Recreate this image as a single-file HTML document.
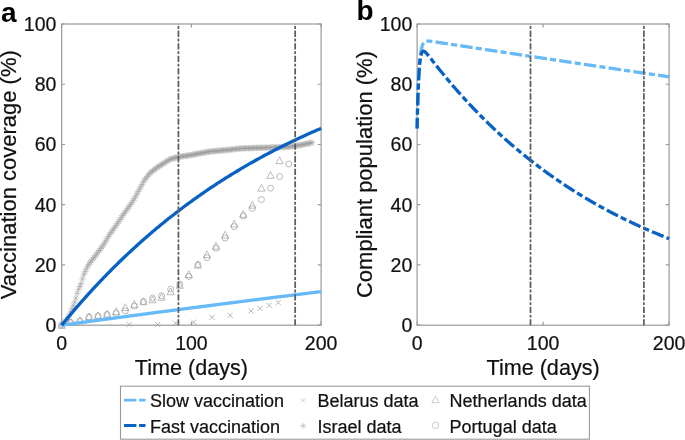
<!DOCTYPE html>
<html><head><meta charset="utf-8"><style>
html,body{margin:0;padding:0;background:#fff;width:685px;height:440px;overflow:hidden}
svg{display:block;filter:blur(0.35px)}
text{font-family:"Liberation Sans",sans-serif;fill:#111;stroke:#111;stroke-width:0.22px}
.tk{font-size:19.5px}
.lb{font-size:22px}
.lg{font-size:18px}
.pl{font-size:28px;font-weight:bold;fill:#000;stroke:none}
</style></head><body>
<svg width="685" height="440" viewBox="0 0 685 440">
<rect x="61.7" y="24" width="259.4" height="301.2" fill="none" stroke="#9a9a9a" stroke-width="1.2"/>
<path d="M61.7,325.2h3.4M321.1,325.2h-3.4M61.7,264.96h3.4M321.1,264.96h-3.4M61.7,204.72h3.4M321.1,204.72h-3.4M61.7,144.48h3.4M321.1,144.48h-3.4M61.7,84.24h3.4M321.1,84.24h-3.4M61.7,24h3.4M321.1,24h-3.4M61.7,325.2v-3.4M61.7,24v3.4M191.4,325.2v-3.4M191.4,24v3.4M321.1,325.2v-3.4M321.1,24v3.4" stroke="#9a9a9a" stroke-width="1.2" fill="none"/>
<text x="56.4" y="332.2" text-anchor="end" class="tk">0</text>
<text x="56.4" y="271.96" text-anchor="end" class="tk">20</text>
<text x="56.4" y="211.72" text-anchor="end" class="tk">40</text>
<text x="56.4" y="151.48" text-anchor="end" class="tk">60</text>
<text x="56.4" y="91.24" text-anchor="end" class="tk">80</text>
<text x="56.4" y="31" text-anchor="end" class="tk">100</text>
<text x="61.7" y="350.3" text-anchor="middle" class="tk">0</text>
<text x="191.4" y="350.3" text-anchor="middle" class="tk">100</text>
<text x="321.1" y="350.3" text-anchor="middle" class="tk">200</text>
<path d="M58.4,324.91h6.6M61.7,321.61v6.6M59.39,322.6l4.62,4.62M59.39,327.22l4.62,-4.62M59.7,323.96h6.6M63,320.66v6.6M60.69,321.65l4.62,4.62M60.69,326.27l4.62,-4.62M60.99,323h6.6M64.29,319.7v6.6M61.98,320.69l4.62,4.62M61.98,325.31l4.62,-4.62M62.29,321.26h6.6M65.59,317.96v6.6M63.28,318.95l4.62,4.62M63.28,323.57l4.62,-4.62M63.59,319.5h6.6M66.89,316.2v6.6M64.58,317.19l4.62,4.62M64.58,321.81l4.62,-4.62M64.89,317.6h6.6M68.19,314.3v6.6M65.88,315.29l4.62,4.62M65.88,319.91l4.62,-4.62M66.18,314.8h6.6M69.48,311.5v6.6M67.17,312.49l4.62,4.62M67.17,317.11l4.62,-4.62M67.48,311.99h6.6M70.78,308.69v6.6M68.47,309.68l4.62,4.62M68.47,314.3l4.62,-4.62M68.78,309.01h6.6M72.08,305.71v6.6M69.77,306.7l4.62,4.62M69.77,311.32l4.62,-4.62M70.07,305.59h6.6M73.37,302.29v6.6M71.06,303.28l4.62,4.62M71.06,307.9l4.62,-4.62M71.37,302.16h6.6M74.67,298.86v6.6M72.36,299.85l4.62,4.62M72.36,304.47l4.62,-4.62M72.67,298.07h6.6M75.97,294.77v6.6M73.66,295.76l4.62,4.62M73.66,300.38l4.62,-4.62M73.96,293.36h6.6M77.26,290.06v6.6M74.95,291.05l4.62,4.62M74.95,295.67l4.62,-4.62M75.26,289.39h6.6M78.56,286.09v6.6M76.25,287.08l4.62,4.62M76.25,291.7l4.62,-4.62M76.56,286.32h6.6M79.86,283.02v6.6M77.55,284.01l4.62,4.62M77.55,288.63l4.62,-4.62M77.86,283.5h6.6M81.16,280.2v6.6M78.84,281.19l4.62,4.62M78.84,285.81l4.62,-4.62M79.15,278.97h6.6M82.45,275.67v6.6M80.14,276.66l4.62,4.62M80.14,281.28l4.62,-4.62M80.45,274.79h6.6M83.75,271.49v6.6M81.44,272.48l4.62,4.62M81.44,277.1l4.62,-4.62M81.75,271.69h6.6M85.05,268.39v6.6M82.74,269.38l4.62,4.62M82.74,274l4.62,-4.62M83.04,268.88h6.6M86.34,265.58v6.6M84.03,266.57l4.62,4.62M84.03,271.19l4.62,-4.62M84.34,266.28h6.6M87.64,262.98v6.6M85.33,263.97l4.62,4.62M85.33,268.59l4.62,-4.62M85.64,264.25h6.6M88.94,260.95v6.6M86.63,261.94l4.62,4.62M86.63,266.56l4.62,-4.62M86.93,262.34h6.6M90.23,259.04v6.6M87.92,260.03l4.62,4.62M87.92,264.65l4.62,-4.62M88.23,260.65h6.6M91.53,257.35v6.6M89.22,258.34l4.62,4.62M89.22,262.96l4.62,-4.62M89.53,259.04h6.6M92.83,255.74v6.6M90.52,256.73l4.62,4.62M90.52,261.35l4.62,-4.62M90.83,257.46h6.6M94.12,254.16v6.6M91.81,255.15l4.62,4.62M91.81,259.77l4.62,-4.62M92.12,255.77h6.6M95.42,252.47v6.6M93.11,253.46l4.62,4.62M93.11,258.08l4.62,-4.62M93.42,254.04h6.6M96.72,250.74v6.6M94.41,251.73l4.62,4.62M94.41,256.35l4.62,-4.62M94.72,252.28h6.6M98.02,248.98v6.6M95.71,249.97l4.62,4.62M95.71,254.59l4.62,-4.62M96.01,250.48h6.6M99.31,247.18v6.6M97,248.17l4.62,4.62M97,252.79l4.62,-4.62M97.31,248.68h6.6M100.61,245.38v6.6M98.3,246.37l4.62,4.62M98.3,250.99l4.62,-4.62M98.61,246.88h6.6M101.91,243.58v6.6M99.6,244.57l4.62,4.62M99.6,249.19l4.62,-4.62M99.9,245.08h6.6M103.2,241.78v6.6M100.89,242.77l4.62,4.62M100.89,247.39l4.62,-4.62M101.2,243.28h6.6M104.5,239.98v6.6M102.19,240.97l4.62,4.62M102.19,245.59l4.62,-4.62M102.5,241.05h6.6M105.8,237.75v6.6M103.49,238.74l4.62,4.62M103.49,243.36l4.62,-4.62M103.8,238.74h6.6M107.1,235.44v6.6M104.79,236.43l4.62,4.62M104.79,241.05l4.62,-4.62M105.09,236.44h6.6M108.39,233.14v6.6M106.08,234.13l4.62,4.62M106.08,238.75l4.62,-4.62M106.39,234.32h6.6M109.69,231.02v6.6M107.38,232.01l4.62,4.62M107.38,236.63l4.62,-4.62M107.69,232.52h6.6M110.99,229.22v6.6M108.68,230.21l4.62,4.62M108.68,234.83l4.62,-4.62M108.98,230.72h6.6M112.28,227.42v6.6M109.97,228.41l4.62,4.62M109.97,233.03l4.62,-4.62M110.28,228.92h6.6M113.58,225.62v6.6M111.27,226.61l4.62,4.62M111.27,231.23l4.62,-4.62M111.58,227.12h6.6M114.88,223.82v6.6M112.57,224.81l4.62,4.62M112.57,229.43l4.62,-4.62M112.87,225.31h6.6M116.17,222.01v6.6M113.86,223l4.62,4.62M113.86,227.62l4.62,-4.62M114.17,223.38h6.6M117.47,220.08v6.6M115.16,221.07l4.62,4.62M115.16,225.69l4.62,-4.62M115.47,221.41h6.6M118.77,218.11v6.6M116.46,219.1l4.62,4.62M116.46,223.72l4.62,-4.62M116.77,219.45h6.6M120.07,216.15v6.6M117.76,217.14l4.62,4.62M117.76,221.76l4.62,-4.62M118.06,217.48h6.6M121.36,214.18v6.6M119.05,215.17l4.62,4.62M119.05,219.79l4.62,-4.62M119.36,215.52h6.6M122.66,212.22v6.6M120.35,213.21l4.62,4.62M120.35,217.83l4.62,-4.62M120.66,213.67h6.6M123.96,210.37v6.6M121.65,211.36l4.62,4.62M121.65,215.98l4.62,-4.62M121.95,211.87h6.6M125.25,208.57v6.6M122.94,209.56l4.62,4.62M122.94,214.18l4.62,-4.62M123.25,210.07h6.6M126.55,206.77v6.6M124.24,207.76l4.62,4.62M124.24,212.38l4.62,-4.62M124.55,208.27h6.6M127.85,204.97v6.6M125.54,205.96l4.62,4.62M125.54,210.58l4.62,-4.62M125.84,206.47h6.6M129.14,203.17v6.6M126.83,204.16l4.62,4.62M126.83,208.78l4.62,-4.62M127.14,204.65h6.6M130.44,201.35v6.6M128.13,202.34l4.62,4.62M128.13,206.96l4.62,-4.62M128.44,202.74h6.6M131.74,199.44v6.6M129.43,200.43l4.62,4.62M129.43,205.05l4.62,-4.62M129.74,200.83h6.6M133.04,197.53v6.6M130.73,198.52l4.62,4.62M130.73,203.14l4.62,-4.62M131.03,198.67h6.6M134.33,195.37v6.6M132.02,196.36l4.62,4.62M132.02,200.98l4.62,-4.62M132.33,196.31h6.6M135.63,193.01v6.6M133.32,194l4.62,4.62M133.32,198.62l4.62,-4.62M133.63,193.95h6.6M136.93,190.65v6.6M134.62,191.64l4.62,4.62M134.62,196.26l4.62,-4.62M134.92,191.59h6.6M138.22,188.29v6.6M135.91,189.28l4.62,4.62M135.91,193.9l4.62,-4.62M136.22,189.22h6.6M139.52,185.92v6.6M137.21,186.91l4.62,4.62M137.21,191.53l4.62,-4.62M137.52,186.82h6.6M140.82,183.52v6.6M138.51,184.51l4.62,4.62M138.51,189.13l4.62,-4.62M138.81,184.42h6.6M142.11,181.12v6.6M139.8,182.11l4.62,4.62M139.8,186.73l4.62,-4.62M140.11,182.02h6.6M143.41,178.72v6.6M141.1,179.71l4.62,4.62M141.1,184.33l4.62,-4.62M141.41,179.74h6.6M144.71,176.44v6.6M142.4,177.43l4.62,4.62M142.4,182.05l4.62,-4.62M142.71,178.08h6.6M146.01,174.78v6.6M143.7,175.77l4.62,4.62M143.7,180.39l4.62,-4.62M144,176.43h6.6M147.3,173.13v6.6M144.99,174.12l4.62,4.62M144.99,178.74l4.62,-4.62M145.3,174.78h6.6M148.6,171.48v6.6M146.29,172.47l4.62,4.62M146.29,177.09l4.62,-4.62M146.6,173.13h6.6M149.9,169.83v6.6M147.59,170.82l4.62,4.62M147.59,175.44l4.62,-4.62M147.89,172.07h6.6M151.19,168.77v6.6M148.88,169.76l4.62,4.62M148.88,174.38l4.62,-4.62M149.19,171.05h6.6M152.49,167.75v6.6M150.18,168.74l4.62,4.62M150.18,173.36l4.62,-4.62M150.49,170.04h6.6M153.79,166.74v6.6M151.48,167.73l4.62,4.62M151.48,172.35l4.62,-4.62M151.78,169.03h6.6M155.08,165.73v6.6M152.77,166.72l4.62,4.62M152.77,171.34l4.62,-4.62M153.08,168.01h6.6M156.38,164.71v6.6M154.07,165.7l4.62,4.62M154.07,170.32l4.62,-4.62M154.38,167.17h6.6M157.68,163.87v6.6M155.37,164.86l4.62,4.62M155.37,169.48l4.62,-4.62M155.68,166.33h6.6M158.98,163.03v6.6M156.67,164.02l4.62,4.62M156.67,168.64l4.62,-4.62M156.97,165.49h6.6M160.27,162.19v6.6M157.96,163.18l4.62,4.62M157.96,167.8l4.62,-4.62M158.27,164.65h6.6M161.57,161.35v6.6M159.26,162.34l4.62,4.62M159.26,166.96l4.62,-4.62M159.57,163.82h6.6M162.87,160.52v6.6M160.56,161.51l4.62,4.62M160.56,166.13l4.62,-4.62M160.86,163h6.6M164.16,159.7v6.6M161.85,160.69l4.62,4.62M161.85,165.31l4.62,-4.62M162.16,162.18h6.6M165.46,158.88v6.6M163.15,159.87l4.62,4.62M163.15,164.49l4.62,-4.62M163.46,161.36h6.6M166.76,158.06v6.6M164.45,159.05l4.62,4.62M164.45,163.67l4.62,-4.62M164.75,160.53h6.6M168.05,157.23v6.6M165.74,158.22l4.62,4.62M165.74,162.84l4.62,-4.62M166.05,159.71h6.6M169.35,156.41v6.6M167.04,157.4l4.62,4.62M167.04,162.02l4.62,-4.62M167.35,159.11h6.6M170.65,155.81v6.6M168.34,156.8l4.62,4.62M168.34,161.42l4.62,-4.62M168.65,158.74h6.6M171.95,155.44v6.6M169.64,156.43l4.62,4.62M169.64,161.05l4.62,-4.62M169.94,158.37h6.6M173.24,155.07v6.6M170.93,156.06l4.62,4.62M170.93,160.68l4.62,-4.62M171.24,158h6.6M174.54,154.7v6.6M172.23,155.69l4.62,4.62M172.23,160.31l4.62,-4.62M172.54,157.62h6.6M175.84,154.32v6.6M173.53,155.31l4.62,4.62M173.53,159.93l4.62,-4.62M173.83,157.25h6.6M177.13,153.95v6.6M174.82,154.94l4.62,4.62M174.82,159.56l4.62,-4.62M175.13,156.94h6.6M178.43,153.64v6.6M176.12,154.63l4.62,4.62M176.12,159.25l4.62,-4.62M176.43,156.74h6.6M179.73,153.44v6.6M177.42,154.43l4.62,4.62M177.42,159.05l4.62,-4.62M177.72,156.55h6.6M181.02,153.25v6.6M178.71,154.24l4.62,4.62M178.71,158.86l4.62,-4.62M179.02,156.35h6.6M182.32,153.05v6.6M180.01,154.04l4.62,4.62M180.01,158.66l4.62,-4.62M180.32,156.16h6.6M183.62,152.86v6.6M181.31,153.85l4.62,4.62M181.31,158.47l4.62,-4.62M181.62,155.96h6.6M184.92,152.66v6.6M182.61,153.65l4.62,4.62M182.61,158.27l4.62,-4.62M182.91,155.77h6.6M186.21,152.47v6.6M183.9,153.46l4.62,4.62M183.9,158.08l4.62,-4.62M184.21,155.57h6.6M187.51,152.27v6.6M185.2,153.26l4.62,4.62M185.2,157.88l4.62,-4.62M185.51,155.38h6.6M188.81,152.08v6.6M186.5,153.07l4.62,4.62M186.5,157.69l4.62,-4.62M186.8,155.18h6.6M190.1,151.88v6.6M187.79,152.87l4.62,4.62M187.79,157.49l4.62,-4.62M188.1,154.93h6.6M191.4,151.63v6.6M189.09,152.62l4.62,4.62M189.09,157.24l4.62,-4.62M189.4,154.69h6.6M192.7,151.39v6.6M190.39,152.38l4.62,4.62M190.39,157l4.62,-4.62M190.69,154.44h6.6M193.99,151.14v6.6M191.68,152.13l4.62,4.62M191.68,156.75l4.62,-4.62M191.99,154.19h6.6M195.29,150.89v6.6M192.98,151.88l4.62,4.62M192.98,156.5l4.62,-4.62M193.29,153.95h6.6M196.59,150.65v6.6M194.28,151.64l4.62,4.62M194.28,156.26l4.62,-4.62M194.59,153.7h6.6M197.89,150.4v6.6M195.58,151.39l4.62,4.62M195.58,156.01l4.62,-4.62M195.88,153.46h6.6M199.18,150.16v6.6M196.87,151.15l4.62,4.62M196.87,155.77l4.62,-4.62M197.18,153.21h6.6M200.48,149.91v6.6M198.17,150.9l4.62,4.62M198.17,155.52l4.62,-4.62M198.48,152.98h6.6M201.78,149.68v6.6M199.47,150.67l4.62,4.62M199.47,155.29l4.62,-4.62M199.77,152.75h6.6M203.07,149.45v6.6M200.76,150.44l4.62,4.62M200.76,155.06l4.62,-4.62M201.07,152.51h6.6M204.37,149.21v6.6M202.06,150.2l4.62,4.62M202.06,154.82l4.62,-4.62M202.37,152.28h6.6M205.67,148.98v6.6M203.36,149.97l4.62,4.62M203.36,154.59l4.62,-4.62M203.66,152.05h6.6M206.96,148.75v6.6M204.65,149.74l4.62,4.62M204.65,154.36l4.62,-4.62M204.96,151.81h6.6M208.26,148.51v6.6M205.95,149.5l4.62,4.62M205.95,154.12l4.62,-4.62M206.26,151.58h6.6M209.56,148.28v6.6M207.25,149.27l4.62,4.62M207.25,153.89l4.62,-4.62M207.56,151.42h6.6M210.86,148.12v6.6M208.55,149.11l4.62,4.62M208.55,153.73l4.62,-4.62M208.85,151.31h6.6M212.15,148.01v6.6M209.84,149l4.62,4.62M209.84,153.62l4.62,-4.62M210.15,151.19h6.6M213.45,147.89v6.6M211.14,148.88l4.62,4.62M211.14,153.5l4.62,-4.62M211.45,151.07h6.6M214.75,147.77v6.6M212.44,148.76l4.62,4.62M212.44,153.38l4.62,-4.62M212.74,150.96h6.6M216.04,147.66v6.6M213.73,148.65l4.62,4.62M213.73,153.27l4.62,-4.62M214.04,150.84h6.6M217.34,147.54v6.6M215.03,148.53l4.62,4.62M215.03,153.15l4.62,-4.62M215.34,150.72h6.6M218.64,147.42v6.6M216.33,148.41l4.62,4.62M216.33,153.03l4.62,-4.62M216.63,150.61h6.6M219.93,147.31v6.6M217.62,148.3l4.62,4.62M217.62,152.92l4.62,-4.62M217.93,150.49h6.6M221.23,147.19v6.6M218.92,148.18l4.62,4.62M218.92,152.8l4.62,-4.62M219.23,150.37h6.6M222.53,147.07v6.6M220.22,148.06l4.62,4.62M220.22,152.68l4.62,-4.62M220.53,150.26h6.6M223.83,146.96v6.6M221.52,147.95l4.62,4.62M221.52,152.57l4.62,-4.62M221.82,150.14h6.6M225.12,146.84v6.6M222.81,147.83l4.62,4.62M222.81,152.45l4.62,-4.62M223.12,150.02h6.6M226.42,146.72v6.6M224.11,147.71l4.62,4.62M224.11,152.33l4.62,-4.62M224.42,149.91h6.6M227.72,146.61v6.6M225.41,147.6l4.62,4.62M225.41,152.22l4.62,-4.62M225.71,149.79h6.6M229.01,146.49v6.6M226.7,147.48l4.62,4.62M226.7,152.1l4.62,-4.62M227.01,149.66h6.6M230.31,146.36v6.6M228,147.35l4.62,4.62M228,151.97l4.62,-4.62M228.31,149.51h6.6M231.61,146.21v6.6M229.3,147.2l4.62,4.62M229.3,151.82l4.62,-4.62M229.6,149.35h6.6M232.9,146.05v6.6M230.59,147.04l4.62,4.62M230.59,151.66l4.62,-4.62M230.9,149.2h6.6M234.2,145.9v6.6M231.89,146.89l4.62,4.62M231.89,151.51l4.62,-4.62M232.2,149.04h6.6M235.5,145.74v6.6M233.19,146.73l4.62,4.62M233.19,151.35l4.62,-4.62M233.5,148.88h6.6M236.8,145.58v6.6M234.49,146.57l4.62,4.62M234.49,151.19l4.62,-4.62M234.79,148.73h6.6M238.09,145.43v6.6M235.78,146.42l4.62,4.62M235.78,151.04l4.62,-4.62M236.09,148.57h6.6M239.39,145.27v6.6M237.08,146.26l4.62,4.62M237.08,150.88l4.62,-4.62M237.39,148.48h6.6M240.69,145.18v6.6M238.38,146.17l4.62,4.62M238.38,150.79l4.62,-4.62M238.68,148.43h6.6M241.98,145.13v6.6M239.67,146.12l4.62,4.62M239.67,150.74l4.62,-4.62M239.98,148.39h6.6M243.28,145.09v6.6M240.97,146.08l4.62,4.62M240.97,150.7l4.62,-4.62M241.28,148.34h6.6M244.58,145.04v6.6M242.27,146.03l4.62,4.62M242.27,150.65l4.62,-4.62M242.57,148.29h6.6M245.87,144.99v6.6M243.56,145.98l4.62,4.62M243.56,150.6l4.62,-4.62M243.87,148.25h6.6M247.17,144.95v6.6M244.86,145.94l4.62,4.62M244.86,150.56l4.62,-4.62M245.17,148.2h6.6M248.47,144.9v6.6M246.16,145.89l4.62,4.62M246.16,150.51l4.62,-4.62M246.47,148.16h6.6M249.77,144.86v6.6M247.46,145.85l4.62,4.62M247.46,150.47l4.62,-4.62M247.76,148.11h6.6M251.06,144.81v6.6M248.75,145.8l4.62,4.62M248.75,150.42l4.62,-4.62M249.06,148.07h6.6M252.36,144.77v6.6M250.05,145.76l4.62,4.62M250.05,150.38l4.62,-4.62M250.36,148.02h6.6M253.66,144.72v6.6M251.35,145.71l4.62,4.62M251.35,150.33l4.62,-4.62M251.65,147.98h6.6M254.95,144.68v6.6M252.64,145.67l4.62,4.62M252.64,150.29l4.62,-4.62M252.95,147.93h6.6M256.25,144.63v6.6M253.94,145.62l4.62,4.62M253.94,150.24l4.62,-4.62M254.25,147.89h6.6M257.55,144.59v6.6M255.24,145.58l4.62,4.62M255.24,150.2l4.62,-4.62M255.54,147.84h6.6M258.84,144.54v6.6M256.53,145.53l4.62,4.62M256.53,150.15l4.62,-4.62M256.84,147.8h6.6M260.14,144.5v6.6M257.83,145.49l4.62,4.62M257.83,150.11l4.62,-4.62M258.14,147.76h6.6M261.44,144.46v6.6M259.13,145.45l4.62,4.62M259.13,150.07l4.62,-4.62M259.44,147.72h6.6M262.74,144.42v6.6M260.43,145.41l4.62,4.62M260.43,150.03l4.62,-4.62M260.73,147.68h6.6M264.03,144.38v6.6M261.72,145.37l4.62,4.62M261.72,149.99l4.62,-4.62M262.03,147.64h6.6M265.33,144.34v6.6M263.02,145.33l4.62,4.62M263.02,149.95l4.62,-4.62M263.33,147.6h6.6M266.63,144.3v6.6M264.32,145.29l4.62,4.62M264.32,149.91l4.62,-4.62M264.62,147.56h6.6M267.92,144.26v6.6M265.61,145.25l4.62,4.62M265.61,149.87l4.62,-4.62M265.92,147.52h6.6M269.22,144.22v6.6M266.91,145.21l4.62,4.62M266.91,149.83l4.62,-4.62M267.22,147.48h6.6M270.52,144.18v6.6M268.21,145.17l4.62,4.62M268.21,149.79l4.62,-4.62M268.51,147.45h6.6M271.81,144.15v6.6M269.5,145.14l4.62,4.62M269.5,149.76l4.62,-4.62M269.81,147.41h6.6M273.11,144.11v6.6M270.8,145.1l4.62,4.62M270.8,149.72l4.62,-4.62M271.11,147.37h6.6M274.41,144.07v6.6M272.1,145.06l4.62,4.62M272.1,149.68l4.62,-4.62M272.41,147.33h6.6M275.71,144.03v6.6M273.4,145.02l4.62,4.62M273.4,149.64l4.62,-4.62M273.7,147.29h6.6M277,143.99v6.6M274.69,144.98l4.62,4.62M274.69,149.6l4.62,-4.62M275,147.25h6.6M278.3,143.95v6.6M275.99,144.94l4.62,4.62M275.99,149.56l4.62,-4.62M276.3,147.21h6.6M279.6,143.91v6.6M277.29,144.9l4.62,4.62M277.29,149.52l4.62,-4.62M277.59,147.15h6.6M280.89,143.85v6.6M278.58,144.84l4.62,4.62M278.58,149.46l4.62,-4.62M278.89,147.07h6.6M282.19,143.77v6.6M279.88,144.76l4.62,4.62M279.88,149.38l4.62,-4.62M280.19,146.99h6.6M283.49,143.69v6.6M281.18,144.68l4.62,4.62M281.18,149.3l4.62,-4.62M281.48,146.91h6.6M284.78,143.61v6.6M282.47,144.6l4.62,4.62M282.47,149.22l4.62,-4.62M282.78,146.84h6.6M286.08,143.54v6.6M283.77,144.53l4.62,4.62M283.77,149.15l4.62,-4.62M284.08,146.76h6.6M287.38,143.46v6.6M285.07,144.45l4.62,4.62M285.07,149.07l4.62,-4.62M285.38,146.68h6.6M288.68,143.38v6.6M286.37,144.37l4.62,4.62M286.37,148.99l4.62,-4.62M286.67,146.6h6.6M289.97,143.3v6.6M287.66,144.29l4.62,4.62M287.66,148.91l4.62,-4.62M287.97,146.41h6.6M291.27,143.11v6.6M288.96,144.1l4.62,4.62M288.96,148.72l4.62,-4.62M289.27,146.22h6.6M292.57,142.92v6.6M290.26,143.91l4.62,4.62M290.26,148.53l4.62,-4.62M290.56,146.02h6.6M293.86,142.72v6.6M291.55,143.71l4.62,4.62M291.55,148.33l4.62,-4.62M291.86,145.83h6.6M295.16,142.53v6.6M292.85,143.52l4.62,4.62M292.85,148.14l4.62,-4.62M293.16,145.63h6.6M296.46,142.33v6.6M294.15,143.32l4.62,4.62M294.15,147.94l4.62,-4.62M294.45,145.44h6.6M297.75,142.14v6.6M295.44,143.13l4.62,4.62M295.44,147.75l4.62,-4.62M295.75,145.24h6.6M299.05,141.94v6.6M296.74,142.93l4.62,4.62M296.74,147.55l4.62,-4.62M297.05,145.03h6.6M300.35,141.73v6.6M298.04,142.72l4.62,4.62M298.04,147.34l4.62,-4.62M298.35,144.77h6.6M301.65,141.47v6.6M299.34,142.46l4.62,4.62M299.34,147.08l4.62,-4.62M299.64,144.51h6.6M302.94,141.21v6.6M300.63,142.2l4.62,4.62M300.63,146.82l4.62,-4.62M300.94,144.25h6.6M304.24,140.95v6.6M301.93,141.94l4.62,4.62M301.93,146.56l4.62,-4.62M302.24,143.99h6.6M305.54,140.69v6.6M303.23,141.68l4.62,4.62M303.23,146.3l4.62,-4.62M303.53,143.73h6.6M306.83,140.43v6.6M304.52,141.42l4.62,4.62M304.52,146.04l4.62,-4.62M304.83,143.47h6.6M308.13,140.17v6.6M305.82,141.16l4.62,4.62M305.82,145.78l4.62,-4.62M306.13,143.21h6.6M309.43,139.91v6.6M307.12,140.9l4.62,4.62M307.12,145.52l4.62,-4.62M307.42,142.9h6.6M310.72,139.6v6.6M308.41,140.59l4.62,4.62M308.41,145.21l4.62,-4.62M308.72,142.53h6.6M312.02,139.23v6.6M309.71,140.22l4.62,4.62M309.71,144.84l4.62,-4.62" stroke="#9c9c9c" stroke-width="0.5" fill="none"/>
<path d="M58.7,325a3.0,3.0 0 1,0 6,0a3.0,3.0 0 1,0 -6,0M67.78,322.5a3.0,3.0 0 1,0 6,0a3.0,3.0 0 1,0 -6,0M76.86,320.8a3.0,3.0 0 1,0 6,0a3.0,3.0 0 1,0 -6,0M85.94,317a3.0,3.0 0 1,0 6,0a3.0,3.0 0 1,0 -6,0M95.02,315.9a3.0,3.0 0 1,0 6,0a3.0,3.0 0 1,0 -6,0M104.09,314.5a3.0,3.0 0 1,0 6,0a3.0,3.0 0 1,0 -6,0M113.17,313.4a3.0,3.0 0 1,0 6,0a3.0,3.0 0 1,0 -6,0M122.25,310.8a3.0,3.0 0 1,0 6,0a3.0,3.0 0 1,0 -6,0M131.33,306.2a3.0,3.0 0 1,0 6,0a3.0,3.0 0 1,0 -6,0M140.41,301.5a3.0,3.0 0 1,0 6,0a3.0,3.0 0 1,0 -6,0M149.49,298.2a3.0,3.0 0 1,0 6,0a3.0,3.0 0 1,0 -6,0M158.57,295.8a3.0,3.0 0 1,0 6,0a3.0,3.0 0 1,0 -6,0M167.65,289.1a3.0,3.0 0 1,0 6,0a3.0,3.0 0 1,0 -6,0M176.73,284.3a3.0,3.0 0 1,0 6,0a3.0,3.0 0 1,0 -6,0M185.81,276.5a3.0,3.0 0 1,0 6,0a3.0,3.0 0 1,0 -6,0M194.88,264.6a3.0,3.0 0 1,0 6,0a3.0,3.0 0 1,0 -6,0M203.96,257.7a3.0,3.0 0 1,0 6,0a3.0,3.0 0 1,0 -6,0M213.04,248.2a3.0,3.0 0 1,0 6,0a3.0,3.0 0 1,0 -6,0M222.12,238a3.0,3.0 0 1,0 6,0a3.0,3.0 0 1,0 -6,0M231.2,226.6a3.0,3.0 0 1,0 6,0a3.0,3.0 0 1,0 -6,0M240.28,216a3.0,3.0 0 1,0 6,0a3.0,3.0 0 1,0 -6,0M249.36,208.4a3.0,3.0 0 1,0 6,0a3.0,3.0 0 1,0 -6,0M258.44,199.6a3.0,3.0 0 1,0 6,0a3.0,3.0 0 1,0 -6,0M267.52,188.2a3.0,3.0 0 1,0 6,0a3.0,3.0 0 1,0 -6,0M276.6,176.6a3.0,3.0 0 1,0 6,0a3.0,3.0 0 1,0 -6,0M285.68,164a3.0,3.0 0 1,0 6,0a3.0,3.0 0 1,0 -6,0" stroke="#8f8f8f" stroke-width="0.6" fill="none"/>
<path d="M61.7,321.6L65.3,328.4L58.1,328.4ZM70.78,318.6L74.38,325.4L67.18,325.4ZM79.86,316.9L83.46,323.7L76.26,323.7ZM88.94,313.1L92.54,319.9L85.34,319.9ZM98.02,311.9L101.62,318.7L94.42,318.7ZM107.09,310.4L110.69,317.2L103.5,317.2ZM116.17,307.8L119.77,314.6L112.57,314.6ZM125.25,303.7L128.85,310.5L121.65,310.5ZM134.33,300.6L137.93,307.4L130.73,307.4ZM143.41,297.9L147.01,304.7L139.81,304.7ZM152.49,296L156.09,302.8L148.89,302.8ZM161.57,293.4L165.17,300.2L157.97,300.2ZM170.65,287.9L174.25,294.7L167.05,294.7ZM179.73,281.5L183.33,288.3L176.13,288.3ZM188.81,270.7L192.41,277.5L185.21,277.5ZM197.88,261.2L201.48,268L194.28,268ZM206.96,250.9L210.56,257.7L203.36,257.7ZM216.04,242.4L219.64,249.2L212.44,249.2ZM225.12,231.2L228.72,238L221.52,238ZM234.2,220.1L237.8,226.9L230.6,226.9ZM243.28,210.5L246.88,217.3L239.68,217.3ZM252.36,201.3L255.96,208.1L248.76,208.1ZM261.44,184.3L265.04,191.1L257.84,191.1ZM270.52,171.5L274.12,178.3L266.92,178.3ZM279.6,156.8L283.2,163.6L276,163.6Z" stroke="#8f8f8f" stroke-width="0.6" fill="none" stroke-linejoin="miter"/>
<path d="M126.5,321.9l5.2,5.2M126.5,327.1l5.2,-5.2M155,321.9l5.2,5.2M155,327.1l5.2,-5.2M172.9,320.6l5.2,5.2M172.9,325.8l5.2,-5.2M191.1,319.6l5.2,5.2M191.1,324.8l5.2,-5.2M209.5,314.7l5.2,5.2M209.5,319.9l5.2,-5.2M227.6,312.8l5.2,5.2M227.6,318l5.2,-5.2M248.4,308.4l5.2,5.2M248.4,313.6l5.2,-5.2M257.4,305.8l5.2,5.2M257.4,311l5.2,-5.2M266.6,302.9l5.2,5.2M266.6,308.1l5.2,-5.2M275.7,300l5.2,5.2M275.7,305.2l5.2,-5.2" stroke="#9a9a9a" stroke-width="0.7" fill="none"/>
<polyline points="61.7,325.2 63,325.02 64.29,324.84 65.59,324.67 66.89,324.49 68.19,324.31 69.48,324.13 70.78,323.96 72.08,323.78 73.37,323.6 74.67,323.43 75.97,323.25 77.26,323.07 78.56,322.89 79.86,322.72 81.16,322.54 82.45,322.37 83.75,322.19 85.05,322.01 86.34,321.84 87.64,321.66 88.94,321.48 90.23,321.31 91.53,321.13 92.83,320.96 94.12,320.78 95.42,320.61 96.72,320.43 98.02,320.26 99.31,320.08 100.61,319.91 101.91,319.73 103.2,319.56 104.5,319.38 105.8,319.21 107.1,319.03 108.39,318.86 109.69,318.69 110.99,318.51 112.28,318.34 113.58,318.16 114.88,317.99 116.17,317.82 117.47,317.64 118.77,317.47 120.07,317.3 121.36,317.12 122.66,316.95 123.96,316.78 125.25,316.6 126.55,316.43 127.85,316.26 129.14,316.08 130.44,315.91 131.74,315.74 133.04,315.57 134.33,315.39 135.63,315.22 136.93,315.05 138.22,314.88 139.52,314.71 140.82,314.53 142.11,314.36 143.41,314.19 144.71,314.02 146.01,313.85 147.3,313.68 148.6,313.51 149.9,313.34 151.19,313.16 152.49,312.99 153.79,312.82 155.08,312.65 156.38,312.48 157.68,312.31 158.98,312.14 160.27,311.97 161.57,311.8 162.87,311.63 164.16,311.46 165.46,311.29 166.76,311.12 168.05,310.95 169.35,310.78 170.65,310.61 171.95,310.44 173.24,310.27 174.54,310.1 175.84,309.94 177.13,309.77 178.43,309.6 179.73,309.43 181.02,309.26 182.32,309.09 183.62,308.92 184.92,308.76 186.21,308.59 187.51,308.42 188.81,308.25 190.1,308.08 191.4,307.91 192.7,307.75 193.99,307.58 195.29,307.41 196.59,307.24 197.89,307.08 199.18,306.91 200.48,306.74 201.78,306.58 203.07,306.41 204.37,306.24 205.67,306.08 206.96,305.91 208.26,305.74 209.56,305.58 210.86,305.41 212.15,305.24 213.45,305.08 214.75,304.91 216.04,304.74 217.34,304.58 218.64,304.41 219.93,304.25 221.23,304.08 222.53,303.92 223.83,303.75 225.12,303.59 226.42,303.42 227.72,303.26 229.01,303.09 230.31,302.93 231.61,302.76 232.9,302.6 234.2,302.43 235.5,302.27 236.8,302.1 238.09,301.94 239.39,301.77 240.69,301.61 241.98,301.45 243.28,301.28 244.58,301.12 245.87,300.95 247.17,300.79 248.47,300.63 249.77,300.46 251.06,300.3 252.36,300.14 253.66,299.97 254.95,299.81 256.25,299.65 257.55,299.49 258.84,299.32 260.14,299.16 261.44,299 262.74,298.83 264.03,298.67 265.33,298.51 266.63,298.35 267.92,298.19 269.22,298.02 270.52,297.86 271.81,297.7 273.11,297.54 274.41,297.38 275.71,297.22 277,297.05 278.3,296.89 279.6,296.73 280.89,296.57 282.19,296.41 283.49,296.25 284.78,296.09 286.08,295.93 287.38,295.77 288.68,295.61 289.97,295.44 291.27,295.28 292.57,295.12 293.86,294.96 295.16,294.8 296.46,294.64 297.75,294.48 299.05,294.32 300.35,294.16 301.65,294 302.94,293.85 304.24,293.69 305.54,293.53 306.83,293.37 308.13,293.21 309.43,293.05 310.72,292.89 312.02,292.73 313.32,292.57 314.62,292.41 315.91,292.26 317.21,292.1 318.51,291.94 319.8,291.78 321.1,291.62" stroke="#66BAF7" stroke-width="3.3" fill="none" stroke-linejoin="round"/>
<polyline points="61.7,325.2 63,323.61 64.29,322.02 65.59,320.45 66.89,318.88 68.19,317.32 69.48,315.77 70.78,314.23 72.08,312.7 73.37,311.17 74.67,309.65 75.97,308.14 77.26,306.64 78.56,305.15 79.86,303.66 81.16,302.18 82.45,300.71 83.75,299.25 85.05,297.79 86.34,296.35 87.64,294.91 88.94,293.47 90.23,292.05 91.53,290.63 92.83,289.22 94.12,287.82 95.42,286.43 96.72,285.04 98.02,283.66 99.31,282.29 100.61,280.92 101.91,279.56 103.2,278.21 104.5,276.87 105.8,275.53 107.1,274.2 108.39,272.88 109.69,271.57 110.99,270.26 112.28,268.95 113.58,267.66 114.88,266.37 116.17,265.09 117.47,263.82 118.77,262.55 120.07,261.29 121.36,260.03 122.66,258.79 123.96,257.54 125.25,256.31 126.55,255.08 127.85,253.86 129.14,252.65 130.44,251.44 131.74,250.24 133.04,249.04 134.33,247.85 135.63,246.67 136.93,245.49 138.22,244.32 139.52,243.15 140.82,242 142.11,240.84 143.41,239.7 144.71,238.56 146.01,237.42 147.3,236.29 148.6,235.17 149.9,234.06 151.19,232.95 152.49,231.84 153.79,230.74 155.08,229.65 156.38,228.56 157.68,227.48 158.98,226.41 160.27,225.34 161.57,224.27 162.87,223.21 164.16,222.16 165.46,221.11 166.76,220.07 168.05,219.03 169.35,218 170.65,216.98 171.95,215.96 173.24,214.94 174.54,213.93 175.84,212.93 177.13,211.93 178.43,210.94 179.73,209.95 181.02,208.97 182.32,207.99 183.62,207.02 184.92,206.05 186.21,205.09 187.51,204.13 188.81,203.18 190.1,202.23 191.4,201.29 192.7,200.35 193.99,199.42 195.29,198.49 196.59,197.57 197.89,196.65 199.18,195.74 200.48,194.83 201.78,193.93 203.07,193.03 204.37,192.14 205.67,191.25 206.96,190.36 208.26,189.48 209.56,188.61 210.86,187.74 212.15,186.87 213.45,186.01 214.75,185.16 216.04,184.3 217.34,183.46 218.64,182.61 219.93,181.78 221.23,180.94 222.53,180.11 223.83,179.29 225.12,178.47 226.42,177.65 227.72,176.84 229.01,176.03 230.31,175.23 231.61,174.43 232.9,173.63 234.2,172.84 235.5,172.05 236.8,171.27 238.09,170.49 239.39,169.72 240.69,168.95 241.98,168.18 243.28,167.42 244.58,166.66 245.87,165.91 247.17,165.16 248.47,164.41 249.77,163.67 251.06,162.93 252.36,162.2 253.66,161.47 254.95,160.74 256.25,160.02 257.55,159.3 258.84,158.58 260.14,157.87 261.44,157.16 262.74,156.46 264.03,155.76 265.33,155.06 266.63,154.37 267.92,153.68 269.22,153 270.52,152.31 271.81,151.63 273.11,150.96 274.41,150.29 275.71,149.62 277,148.96 278.3,148.3 279.6,147.64 280.89,146.99 282.19,146.34 283.49,145.69 284.78,145.05 286.08,144.41 287.38,143.77 288.68,143.14 289.97,142.51 291.27,141.88 292.57,141.26 293.86,140.64 295.16,140.02 296.46,139.41 297.75,138.8 299.05,138.19 300.35,137.59 301.65,136.99 302.94,136.39 304.24,135.8 305.54,135.2 306.83,134.62 308.13,134.03 309.43,133.45 310.72,132.87 312.02,132.3 313.32,131.72 314.62,131.15 315.91,130.59 317.21,130.02 318.51,129.46 319.8,128.91 321.1,128.35" stroke="#0862C6" stroke-width="3.3" fill="none" stroke-linejoin="round"/>
<line x1="178.43" y1="24" x2="178.43" y2="325.2" stroke="#5e5e5e" stroke-width="1.75" stroke-dasharray="6.3 1.7 2.9 1.65" stroke-dashoffset="5.95"/>
<line x1="295.16" y1="24" x2="295.16" y2="325.2" stroke="#5e5e5e" stroke-width="1.75" stroke-dasharray="6.3 1.7 2.9 1.65" stroke-dashoffset="5.95"/>
<rect x="417.1" y="24" width="252" height="301.2" fill="none" stroke="#9a9a9a" stroke-width="1.2"/>
<path d="M417.1,325.2h3.4M669.1,325.2h-3.4M417.1,264.96h3.4M669.1,264.96h-3.4M417.1,204.72h3.4M669.1,204.72h-3.4M417.1,144.48h3.4M669.1,144.48h-3.4M417.1,84.24h3.4M669.1,84.24h-3.4M417.1,24h3.4M669.1,24h-3.4M417.1,325.2v-3.4M417.1,24v3.4M543.1,325.2v-3.4M543.1,24v3.4M669.1,325.2v-3.4M669.1,24v3.4" stroke="#9a9a9a" stroke-width="1.2" fill="none"/>
<text x="412.3" y="332.2" text-anchor="end" class="tk">0</text>
<text x="412.3" y="271.96" text-anchor="end" class="tk">20</text>
<text x="412.3" y="211.72" text-anchor="end" class="tk">40</text>
<text x="412.3" y="151.48" text-anchor="end" class="tk">60</text>
<text x="412.3" y="91.24" text-anchor="end" class="tk">80</text>
<text x="412.3" y="31" text-anchor="end" class="tk">100</text>
<text x="417.1" y="350.3" text-anchor="middle" class="tk">0</text>
<text x="543.1" y="350.3" text-anchor="middle" class="tk">100</text>
<text x="669.1" y="350.3" text-anchor="middle" class="tk">200</text>
<polyline points="417.1,128.52 417.23,122.77 417.35,117.4 417.48,112.37 417.6,107.68 417.73,103.28 417.86,99.17 417.98,95.33 418.11,91.73 418.23,88.37 418.36,85.23 418.49,82.29 418.61,79.54 418.74,76.97 418.86,74.56 418.99,72.32 419.12,70.21 419.24,68.25 419.37,66.41 419.49,64.7 419.62,63.09 419.75,61.59 419.87,60.19 420,58.88 420.12,57.66 420.25,56.51 420.38,55.44 420.5,54.44 420.63,53.51 420.75,52.64 420.88,51.82 421.01,51.06 421.13,50.35 421.26,49.69 421.38,49.07 421.51,48.49 421.64,47.95 421.76,47.45 421.89,46.98 422.01,46.54 422.14,46.13 422.27,45.75 422.39,45.39 422.52,45.06 422.64,44.75 422.77,44.47 422.9,44.2 423.02,43.95 423.15,43.72 423.27,43.5 423.4,43.3 423.53,43.12 423.65,42.94 423.78,42.78 423.9,42.63 424.03,42.49 424.16,42.37 424.28,42.25 424.41,42.14 424.53,42.04 424.66,41.94 424.79,41.86 424.91,41.78 425.04,41.7 425.16,41.64 425.29,41.58 425.42,41.52 425.54,41.47 425.67,41.42 425.79,41.38 425.92,41.34 426.05,41.3 426.17,41.27 426.3,41.24 426.42,41.22 426.55,41.2 426.68,41.18 426.8,41.16 426.93,41.15 427.05,41.13 427.18,41.12 427.31,41.11 427.43,41.11 427.56,41.1 427.68,41.1 427.81,41.1 427.94,41.1 428.06,41.1 428.19,41.1 428.31,41.1 428.44,41.1 428.57,41.11 428.69,41.12 428.82,41.12 428.94,41.13 429.07,41.14 429.2,41.15 429.32,41.16 429.45,41.17 429.57,41.18 429.7,41.19 430.33,41.25 430.96,41.33 431.59,41.41 432.22,41.49 432.85,41.58 433.48,41.67 434.11,41.76 434.74,41.85 435.37,41.95 436,42.04 436.63,42.14 437.26,42.23 437.89,42.33 438.52,42.42 439.15,42.52 439.78,42.61 440.41,42.71 441.04,42.81 441.67,42.9 442.3,43 442.93,43.09 443.56,43.19 444.19,43.28 444.82,43.38 445.45,43.48 446.08,43.57 446.71,43.67 447.34,43.76 447.97,43.86 448.6,43.96 449.23,44.05 449.86,44.15 450.49,44.24 451.12,44.34 451.75,44.43 452.38,44.53 453.01,44.63 453.64,44.72 454.27,44.82 454.9,44.91 455.53,45.01 456.16,45.1 456.79,45.2 457.42,45.3 458.05,45.39 458.68,45.49 459.31,45.58 459.94,45.68 460.57,45.77 461.2,45.87 461.83,45.97 462.46,46.06 463.09,46.16 463.72,46.25 464.35,46.35 464.98,46.44 465.61,46.54 466.24,46.63 466.87,46.73 467.5,46.82 468.13,46.92 468.76,47.02 469.39,47.11 470.02,47.21 470.65,47.3 471.28,47.4 471.91,47.49 472.54,47.59 473.17,47.68 473.8,47.78 474.43,47.87 475.06,47.97 475.69,48.07 476.32,48.16 476.95,48.26 477.58,48.35 478.21,48.45 478.84,48.54 479.47,48.64 480.1,48.73 480.73,48.83 481.36,48.92 481.99,49.02 482.62,49.11 483.25,49.21 483.88,49.3 484.51,49.4 485.14,49.49 485.77,49.59 486.4,49.68 487.03,49.78 487.66,49.87 488.29,49.97 488.92,50.06 489.55,50.16 490.18,50.25 490.81,50.35 491.44,50.45 492.07,50.54 492.7,50.64 493.33,50.73 493.96,50.83 494.59,50.92 495.22,51.02 495.85,51.11 496.48,51.21 497.11,51.3 497.74,51.39 498.37,51.49 499,51.58 499.63,51.68 500.26,51.77 500.89,51.87 501.52,51.96 502.15,52.06 502.78,52.15 503.41,52.25 504.04,52.34 504.67,52.44 505.3,52.53 505.93,52.63 506.56,52.72 507.19,52.82 507.82,52.91 508.45,53.01 509.08,53.1 509.71,53.2 510.34,53.29 510.97,53.39 511.6,53.48 512.23,53.58 512.86,53.67 513.49,53.76 514.12,53.86 514.75,53.95 515.38,54.05 516.01,54.14 516.64,54.24 517.27,54.33 517.9,54.43 518.53,54.52 519.16,54.62 519.79,54.71 520.42,54.81 521.05,54.9 521.68,54.99 522.31,55.09 522.94,55.18 523.57,55.28 524.2,55.37 524.83,55.47 525.46,55.56 526.09,55.66 526.72,55.75 527.35,55.84 527.98,55.94 528.61,56.03 529.24,56.13 529.87,56.22 530.5,56.32 531.13,56.41 531.76,56.51 532.39,56.6 533.02,56.69 533.65,56.79 534.28,56.88 534.91,56.98 535.54,57.07 536.17,57.17 536.8,57.26 537.43,57.35 538.06,57.45 538.69,57.54 539.32,57.64 539.95,57.73 540.58,57.82 541.21,57.92 541.84,58.01 542.47,58.11 543.1,58.2 543.73,58.3 544.36,58.39 544.99,58.48 545.62,58.58 546.25,58.67 546.88,58.77 547.51,58.86 548.14,58.95 548.77,59.05 549.4,59.14 550.03,59.24 550.66,59.33 551.29,59.42 551.92,59.52 552.55,59.61 553.18,59.71 553.81,59.8 554.44,59.89 555.07,59.99 555.7,60.08 556.33,60.18 556.96,60.27 557.59,60.36 558.22,60.46 558.85,60.55 559.48,60.64 560.11,60.74 560.74,60.83 561.37,60.93 562,61.02 562.63,61.11 563.26,61.21 563.89,61.3 564.52,61.39 565.15,61.49 565.78,61.58 566.41,61.68 567.04,61.77 567.67,61.86 568.3,61.96 568.93,62.05 569.56,62.14 570.19,62.24 570.82,62.33 571.45,62.43 572.08,62.52 572.71,62.61 573.34,62.71 573.97,62.8 574.6,62.89 575.23,62.99 575.86,63.08 576.49,63.17 577.12,63.27 577.75,63.36 578.38,63.45 579.01,63.55 579.64,63.64 580.27,63.73 580.9,63.83 581.53,63.92 582.16,64.02 582.79,64.11 583.42,64.2 584.05,64.3 584.68,64.39 585.31,64.48 585.94,64.58 586.57,64.67 587.2,64.76 587.83,64.86 588.46,64.95 589.09,65.04 589.72,65.14 590.35,65.23 590.98,65.32 591.61,65.42 592.24,65.51 592.87,65.6 593.5,65.7 594.13,65.79 594.76,65.88 595.39,65.97 596.02,66.07 596.65,66.16 597.28,66.25 597.91,66.35 598.54,66.44 599.17,66.53 599.8,66.63 600.43,66.72 601.06,66.81 601.69,66.91 602.32,67 602.95,67.09 603.58,67.19 604.21,67.28 604.84,67.37 605.47,67.46 606.1,67.56 606.73,67.65 607.36,67.74 607.99,67.84 608.62,67.93 609.25,68.02 609.88,68.12 610.51,68.21 611.14,68.3 611.77,68.39 612.4,68.49 613.03,68.58 613.66,68.67 614.29,68.77 614.92,68.86 615.55,68.95 616.18,69.04 616.81,69.14 617.44,69.23 618.07,69.32 618.7,69.41 619.33,69.51 619.96,69.6 620.59,69.69 621.22,69.79 621.85,69.88 622.48,69.97 623.11,70.06 623.74,70.16 624.37,70.25 625,70.34 625.63,70.43 626.26,70.53 626.89,70.62 627.52,70.71 628.15,70.81 628.78,70.9 629.41,70.99 630.04,71.08 630.67,71.18 631.3,71.27 631.93,71.36 632.56,71.45 633.19,71.55 633.82,71.64 634.45,71.73 635.08,71.82 635.71,71.92 636.34,72.01 636.97,72.1 637.6,72.19 638.23,72.29 638.86,72.38 639.49,72.47 640.12,72.56 640.75,72.65 641.38,72.75 642.01,72.84 642.64,72.93 643.27,73.02 643.9,73.12 644.53,73.21 645.16,73.3 645.79,73.39 646.42,73.49 647.05,73.58 647.68,73.67 648.31,73.76 648.94,73.85 649.57,73.95 650.2,74.04 650.83,74.13 651.46,74.22 652.09,74.32 652.72,74.41 653.35,74.5 653.98,74.59 654.61,74.68 655.24,74.78 655.87,74.87 656.5,74.96 657.13,75.05 657.76,75.14 658.39,75.24 659.02,75.33 659.65,75.42 660.28,75.51 660.91,75.61 661.54,75.7 662.17,75.79 662.8,75.88 663.43,75.97 664.06,76.07 664.69,76.16 665.32,76.25 665.95,76.34 666.58,76.43 667.21,76.52 667.84,76.62 668.47,76.71 669.1,76.8" stroke="#66BAF7" stroke-width="3.3" fill="none" stroke-dasharray="12.5 3.2 6.1 3.2" stroke-dashoffset="1.26"/>
<polyline points="417.1,128.52 417.23,122.6 417.35,117.1 417.48,112 417.6,107.25 417.73,102.85 417.86,98.76 417.98,94.97 418.11,91.45 418.23,88.18 418.36,85.15 418.49,82.35 418.61,79.74 418.74,77.33 418.86,75.1 418.99,73.03 419.12,71.12 419.24,69.35 419.37,67.71 419.49,66.2 419.62,64.81 419.75,63.52 419.87,62.33 420,61.24 420.12,60.23 420.25,59.31 420.38,58.46 420.5,57.68 420.63,56.97 420.75,56.32 420.88,55.72 421.01,55.18 421.13,54.68 421.26,54.24 421.38,53.83 421.51,53.47 421.64,53.14 421.76,52.84 421.89,52.58 422.01,52.35 422.14,52.14 422.27,51.96 422.39,51.81 422.52,51.68 422.64,51.56 422.77,51.47 422.9,51.4 423.02,51.34 423.15,51.3 423.27,51.27 423.4,51.25 423.53,51.25 423.65,51.26 423.78,51.28 423.9,51.32 424.03,51.36 424.16,51.41 424.28,51.46 424.41,51.53 424.53,51.6 424.66,51.68 424.79,51.76 424.91,51.85 425.04,51.95 425.16,52.05 425.29,52.16 425.42,52.27 425.54,52.38 425.67,52.5 425.79,52.62 425.92,52.74 426.05,52.87 426.17,53 426.3,53.13 426.42,53.26 426.55,53.4 426.68,53.54 426.8,53.68 426.93,53.82 427.05,53.96 427.18,54.11 427.31,54.25 427.43,54.4 427.56,54.55 427.68,54.7 427.81,54.85 427.94,55 428.06,55.16 428.19,55.31 428.31,55.46 428.44,55.62 428.57,55.77 428.69,55.93 428.82,56.09 428.94,56.25 429.07,56.4 429.2,56.56 429.32,56.72 429.45,56.88 429.57,57.04 429.7,57.2 430.33,58 430.96,58.8 431.59,59.61 432.22,60.41 432.85,61.22 433.48,62.02 434.11,62.83 434.74,63.63 435.37,64.43 436,65.22 436.63,66.02 437.26,66.81 437.89,67.6 438.52,68.39 439.15,69.17 439.78,69.96 440.41,70.74 441.04,71.52 441.67,72.29 442.3,73.06 442.93,73.83 443.56,74.6 444.19,75.37 444.82,76.13 445.45,76.89 446.08,77.65 446.71,78.41 447.34,79.16 447.97,79.91 448.6,80.66 449.23,81.41 449.86,82.15 450.49,82.89 451.12,83.63 451.75,84.37 452.38,85.11 453.01,85.84 453.64,86.57 454.27,87.3 454.9,88.02 455.53,88.74 456.16,89.47 456.79,90.18 457.42,90.9 458.05,91.61 458.68,92.33 459.31,93.04 459.94,93.74 460.57,94.45 461.2,95.15 461.83,95.85 462.46,96.55 463.09,97.25 463.72,97.94 464.35,98.63 464.98,99.32 465.61,100.01 466.24,100.69 466.87,101.38 467.5,102.06 468.13,102.74 468.76,103.41 469.39,104.09 470.02,104.76 470.65,105.43 471.28,106.1 471.91,106.76 472.54,107.43 473.17,108.09 473.8,108.75 474.43,109.41 475.06,110.06 475.69,110.72 476.32,111.37 476.95,112.02 477.58,112.66 478.21,113.31 478.84,113.95 479.47,114.59 480.1,115.23 480.73,115.87 481.36,116.5 481.99,117.14 482.62,117.77 483.25,118.4 483.88,119.02 484.51,119.65 485.14,120.27 485.77,120.89 486.4,121.51 487.03,122.13 487.66,122.74 488.29,123.36 488.92,123.97 489.55,124.58 490.18,125.18 490.81,125.79 491.44,126.39 492.07,126.99 492.7,127.59 493.33,128.19 493.96,128.79 494.59,129.38 495.22,129.97 495.85,130.56 496.48,131.15 497.11,131.74 497.74,132.32 498.37,132.91 499,133.49 499.63,134.07 500.26,134.64 500.89,135.22 501.52,135.79 502.15,136.36 502.78,136.93 503.41,137.5 504.04,138.07 504.67,138.63 505.3,139.2 505.93,139.76 506.56,140.32 507.19,140.87 507.82,141.43 508.45,141.98 509.08,142.53 509.71,143.09 510.34,143.63 510.97,144.18 511.6,144.73 512.23,145.27 512.86,145.81 513.49,146.35 514.12,146.89 514.75,147.43 515.38,147.96 516.01,148.49 516.64,149.03 517.27,149.56 517.9,150.08 518.53,150.61 519.16,151.13 519.79,151.66 520.42,152.18 521.05,152.7 521.68,153.22 522.31,153.73 522.94,154.25 523.57,154.76 524.2,155.27 524.83,155.78 525.46,156.29 526.09,156.8 526.72,157.3 527.35,157.81 527.98,158.31 528.61,158.81 529.24,159.31 529.87,159.81 530.5,160.3 531.13,160.8 531.76,161.29 532.39,161.78 533.02,162.27 533.65,162.76 534.28,163.24 534.91,163.73 535.54,164.21 536.17,164.69 536.8,165.17 537.43,165.65 538.06,166.13 538.69,166.6 539.32,167.08 539.95,167.55 540.58,168.02 541.21,168.49 541.84,168.96 542.47,169.43 543.1,169.89 543.73,170.36 544.36,170.82 544.99,171.28 545.62,171.74 546.25,172.2 546.88,172.65 547.51,173.11 548.14,173.56 548.77,174.01 549.4,174.46 550.03,174.91 550.66,175.36 551.29,175.81 551.92,176.25 552.55,176.69 553.18,177.14 553.81,177.58 554.44,178.02 555.07,178.45 555.7,178.89 556.33,179.33 556.96,179.76 557.59,180.19 558.22,180.62 558.85,181.05 559.48,181.48 560.11,181.91 560.74,182.33 561.37,182.76 562,183.18 562.63,183.6 563.26,184.02 563.89,184.44 564.52,184.86 565.15,185.28 565.78,185.69 566.41,186.1 567.04,186.52 567.67,186.93 568.3,187.34 568.93,187.75 569.56,188.15 570.19,188.56 570.82,188.96 571.45,189.37 572.08,189.77 572.71,190.17 573.34,190.57 573.97,190.97 574.6,191.36 575.23,191.76 575.86,192.15 576.49,192.55 577.12,192.94 577.75,193.33 578.38,193.72 579.01,194.11 579.64,194.49 580.27,194.88 580.9,195.26 581.53,195.65 582.16,196.03 582.79,196.41 583.42,196.79 584.05,197.17 584.68,197.54 585.31,197.92 585.94,198.3 586.57,198.67 587.2,199.04 587.83,199.41 588.46,199.78 589.09,200.15 589.72,200.52 590.35,200.89 590.98,201.25 591.61,201.62 592.24,201.98 592.87,202.34 593.5,202.7 594.13,203.06 594.76,203.42 595.39,203.78 596.02,204.13 596.65,204.49 597.28,204.84 597.91,205.2 598.54,205.55 599.17,205.9 599.8,206.25 600.43,206.6 601.06,206.94 601.69,207.29 602.32,207.63 602.95,207.98 603.58,208.32 604.21,208.66 604.84,209 605.47,209.34 606.1,209.68 606.73,210.02 607.36,210.36 607.99,210.69 608.62,211.03 609.25,211.36 609.88,211.69 610.51,212.02 611.14,212.35 611.77,212.68 612.4,213.01 613.03,213.34 613.66,213.66 614.29,213.99 614.92,214.31 615.55,214.63 616.18,214.96 616.81,215.28 617.44,215.6 618.07,215.92 618.7,216.23 619.33,216.55 619.96,216.87 620.59,217.18 621.22,217.49 621.85,217.81 622.48,218.12 623.11,218.43 623.74,218.74 624.37,219.05 625,219.36 625.63,219.66 626.26,219.97 626.89,220.27 627.52,220.58 628.15,220.88 628.78,221.18 629.41,221.48 630.04,221.78 630.67,222.08 631.3,222.38 631.93,222.68 632.56,222.98 633.19,223.27 633.82,223.57 634.45,223.86 635.08,224.15 635.71,224.44 636.34,224.73 636.97,225.02 637.6,225.31 638.23,225.6 638.86,225.89 639.49,226.17 640.12,226.46 640.75,226.74 641.38,227.03 642.01,227.31 642.64,227.59 643.27,227.87 643.9,228.15 644.53,228.43 645.16,228.71 645.79,228.99 646.42,229.26 647.05,229.54 647.68,229.81 648.31,230.09 648.94,230.36 649.57,230.63 650.2,230.9 650.83,231.17 651.46,231.44 652.09,231.71 652.72,231.98 653.35,232.25 653.98,232.51 654.61,232.78 655.24,233.04 655.87,233.3 656.5,233.57 657.13,233.83 657.76,234.09 658.39,234.35 659.02,234.61 659.65,234.87 660.28,235.13 660.91,235.38 661.54,235.64 662.17,235.89 662.8,236.15 663.43,236.4 664.06,236.65 664.69,236.91 665.32,237.16 665.95,237.41 666.58,237.66 667.21,237.91 667.84,238.16 668.47,238.4 669.1,238.65" stroke="#0862C6" stroke-width="3.3" fill="none" stroke-dasharray="12.5 3.2 6.1 3.2" stroke-dashoffset="1.94"/>
<line x1="530.5" y1="24" x2="530.5" y2="325.2" stroke="#5e5e5e" stroke-width="1.75" stroke-dasharray="6.3 1.7 2.9 1.65" stroke-dashoffset="5.95"/>
<line x1="643.9" y1="24" x2="643.9" y2="325.2" stroke="#5e5e5e" stroke-width="1.75" stroke-dasharray="6.3 1.7 2.9 1.65" stroke-dashoffset="5.95"/>
<text x="1" y="21.6" class="pl">a</text>
<text x="356.6" y="20" class="pl">b</text>
<text transform="translate(15.9,174.7) rotate(-90)" text-anchor="middle" class="lb">Vaccination coverage (%)</text>
<text transform="translate(371.8,174.5) rotate(-90)" text-anchor="middle" class="lb">Compliant population (%)</text>
<text x="191.4" y="375.2" text-anchor="middle" class="lb" style="font-size:21.6px">Time (days)</text>
<text x="543.1" y="375.2" text-anchor="middle" class="lb" style="font-size:21.6px">Time (days)</text>
<rect x="120.5" y="386.2" width="468.9" height="53" fill="#fff" stroke="#9a9a9a" stroke-width="1.1"/>
<path d="M124,400.2h12.4M139.1,400.2h6.4" stroke="#66BAF7" stroke-width="2.8"/>
<path d="M124,425.5h12.4M139.1,425.5h6.4" stroke="#0862C6" stroke-width="2.8"/>
<text x="150" y="407.3" class="lg">Slow vaccination</text>
<text x="150" y="432.6" class="lg">Fast vaccination</text>
<text x="317.4" y="407.3" class="lg">Belarus data</text>
<text x="317.4" y="432.6" class="lg">Israel data</text>
<text x="449.6" y="407.3" class="lg">Netherlands data</text>
<text x="449.6" y="432.6" class="lg">Portugal data</text>
<path d="M301.1,398.4l4.0,4.0M301.1,402.4l4.0,-4.0" stroke="#aaa" stroke-width="0.6"/>
<path d="M299.90000000000003,425.8h6.4M303.1,422.6v6.4M300.86,423.56l4.4799999999999995,4.4799999999999995M300.86,428.04l4.4799999999999995,-4.4799999999999995" stroke="#b0b0b0" stroke-width="0.55"/>
<path d="M435.5,396.3L439.2,402.6L431.8,402.6Z" stroke="#aaa" stroke-width="0.6" fill="none"/>
<circle cx="435.6" cy="425.4" r="3.2" stroke="#aaa" stroke-width="0.6" fill="none"/>
</svg>
</body></html>
